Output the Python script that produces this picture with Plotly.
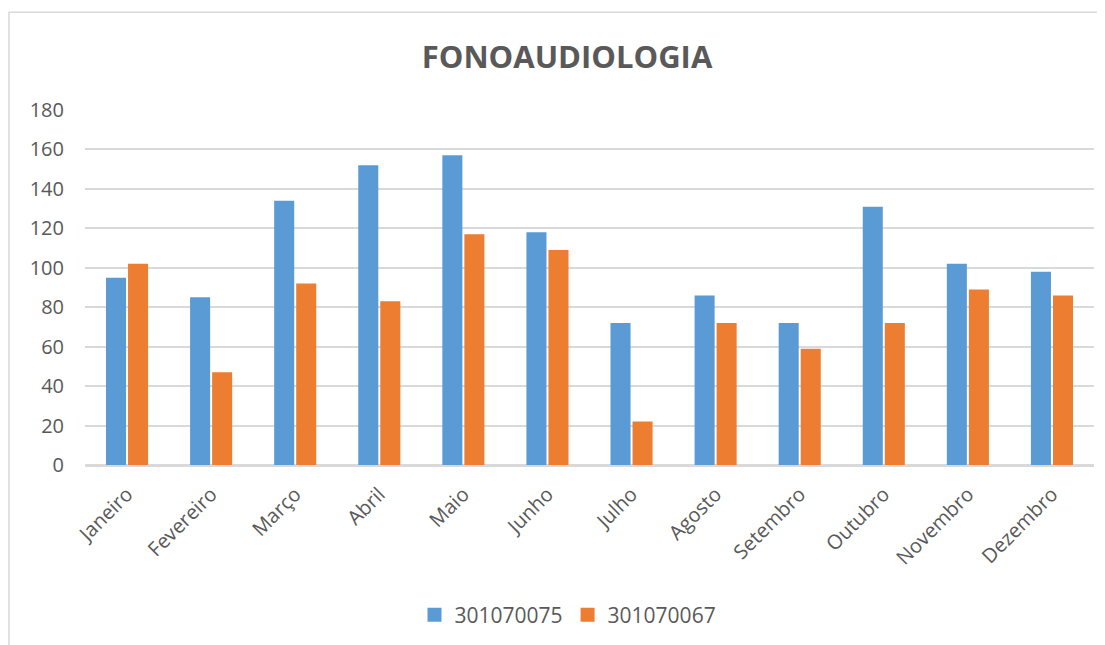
import plotly.graph_objects as go

meses = ["Janeiro", "Fevereiro", "Março", "Abril", "Maio", "Junho", "Julho",
         "Agosto", "Setembro", "Outubro", "Novembro", "Dezembro"]
serie_a_nome = "301070075"
serie_b_nome = "301070067"
serie_a = [95, 85, 134, 152, 157, 118, 72, 86, 72, 131, 102, 98]
serie_b = [102, 47, 92, 83, 117, 109, 22, 72, 59, 72, 89, 86]
y_ticks = [0, 20, 40, 60, 80, 100, 120, 140, 160, 180]

FONT = "Open Sans"
TXT = "#595959"
BLUE = "#5B9BD5"
ORANGE = "#ED7D31"

fig = go.Figure()
fig.add_trace(go.Bar(x=meses, y=serie_a, name=serie_a_nome, showlegend=False,
                     legendgroup="a",
                     marker=dict(color=BLUE, line=dict(width=0))))
fig.add_trace(go.Bar(x=meses, y=serie_b, name=serie_b_nome, showlegend=False,
                     legendgroup="b",
                     marker=dict(color=ORANGE, line=dict(width=0))))
# legend-only entries with larger square swatches
for nome, cor, grp in [(serie_a_nome, BLUE, "a"), (serie_b_nome, ORANGE, "b")]:
    fig.add_trace(go.Scatter(x=[None], y=[None], mode="markers", name=nome,
                             legendgroup=grp, hoverinfo="skip",
                             marker=dict(symbol="square", size=14, color=cor)))

# page body has an 8px margin; work in window pixel coords and shift
OFF = 8
W, H = 1105 - OFF, 645 - OFF
L, T = 85 - OFF, 110 - OFF
R = (1105 - 1094)
B = H - (466 - OFF)
pw = W - L - R
ph = H - T - B

def px_x(x):
    return (x - OFF - L) / pw

def px_y(y):
    return (H - B - (y - OFF)) / ph

fig.update_layout(
    width=W, height=H,
    margin=dict(l=L, r=R, t=T, b=B),
    paper_bgcolor="white", plot_bgcolor="white",
    barmode="group", bargap=0.476, bargroupgap=0.09,
    font=dict(family=FONT, color=TXT, size=20),
    title=dict(text="<b>FONOAUDIOLOGIA</b>", x=px_x(567), xref="paper",
               xanchor="center", y=1 - (57 - OFF) / H, yanchor="middle",
               font=dict(family=FONT, size=31, color=TXT)),
    showlegend=True,
    legend=dict(orientation="h", x=px_x(568), xanchor="center",
                y=px_y(615), yanchor="middle",
                font=dict(family=FONT, size=21, color=TXT),
                itemwidth=30, traceorder="normal"),
    xaxis=dict(tickangle=-45, showgrid=False, showline=True,
               linecolor="#D9D9D9", linewidth=1.5,
               tickfont=dict(family=FONT, size=20, color=TXT),
               ticks="", ticklabelstandoff=8),
    yaxis=dict(range=[0, 180], tickvals=y_ticks, showgrid=True,
               gridcolor="#D9D9D9", gridwidth=1.5, zeroline=True,
               zerolinecolor="#D9D9D9", zerolinewidth=1.5,
               showline=False, ticks="",
               tickfont=dict(family=FONT, size=20, color=TXT),
               ticklabelstandoff=20),
    shapes=[dict(type="rect", xref="paper", yref="paper",
                 x0=px_x(9), x1=1.1, y0=px_y(12), y1=-0.6,
                 line=dict(color="#D9D9D9", width=1.5), layer="below")],
)

fig.write_html("out.html")
